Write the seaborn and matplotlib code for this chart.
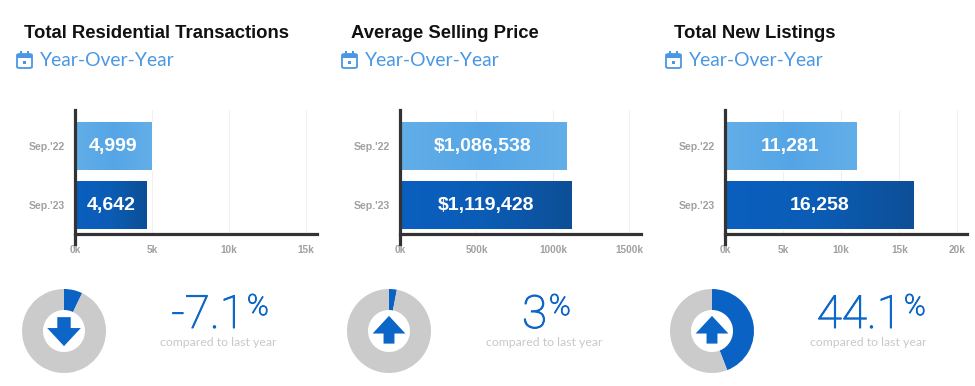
import numpy as np
import pandas as pd
import matplotlib
matplotlib.use("Agg")
import matplotlib.pyplot as plt
import matplotlib.patheffects as pe
import seaborn as sns
from matplotlib.colors import LinearSegmentedColormap
from matplotlib.patches import Polygon, FancyBboxPatch, Rectangle

W, H = 975, 386

periods = ["Sep.'22", "Sep.'23"]
titles = ["Total Residential Transactions", "Average Selling Price", "Total New Listings"]
subtitle = "Year-Over-Year"
transactions = [4999, 4642]
prices = [1086538, 1119428]
listings = [11281, 16258]
value_labels = [["4,999", "4,642"], ["$1,086,538", "$1,119,428"], ["11,281", "16,258"]]
tick_values = [[0, 5000, 10000, 15000], [0, 500000, 1000000, 1500000], [0, 5000, 10000, 15000, 20000]]
tick_labels = [["0k", "5k", "10k", "15k"], ["0k", "500k", "1000k", "1500k"], ["0k", "5k", "10k", "15k", "20k"]]
changes = [7.1, 3, 44.1]
change_labels = ["-7.1", "3", "44.1"]
directions = ["down", "up", "up"]

series = [transactions, prices, listings]
axis_left = [75, 400, 725]
axis_right = [317, 641, 967]
px_per_unit = [77.0 / 5000, 153.0 / 1000000, 11.62 / 1000]
title_x = [24, 351, 674]
sub_x = [40, 365, 689]
icon_x = [17, 342, 666]
donut_x = [64, 389, 712]
number_right = [245, 547, 902]
caption_x = [218, 544, 868]

BLUE = "#0b66c8"
NAVY_TEXT = "#4a97e4"

sns.set_theme(style="white")
plt.rcParams["font.family"] = ["Liberation Sans", "DejaVu Sans"]

fig = plt.figure(figsize=(W / 100, H / 100), dpi=100, facecolor="white")


def box(x0, y0, x1, y1):
    return [x0 / W, 1 - y1 / H, (x1 - x0) / W, (y1 - y0) / H]


def ftext(x, y, s, **kw):
    return fig.text(x / W, 1 - y / H, s, **kw)


grad_light = LinearSegmentedColormap.from_list("l", ["#62aee8", "#55a5e6", "#62aee8"])
grad_dark = LinearSegmentedColormap.from_list("d", ["#0a5fbe", "#0b5cb5", "#0d4f96"])
thicker = [pe.withStroke(linewidth=0.7, foreground=BLUE)]

for i in range(3):
    ax = fig.add_axes(box(axis_left[i], 110, axis_right[i], 234))
    df = pd.DataFrame({"period": periods, "value": series[i]})
    sns.barplot(data=df, x="value", y="period", hue="period", palette=["#5aa9e6", "#0b5cb5"],
                orient="h", width=0.8, legend=False, ax=ax, saturation=1, zorder=3)
    ax.set_xlim(0, (axis_right[i] - axis_left[i]) / px_per_unit[i])
    ax.set_ylim(1.49, -0.61)
    xl, yl = ax.get_xlim(), ax.get_ylim()
    for b, cmap in zip(ax.patches, [grad_light, grad_dark]):
        im = ax.imshow(np.linspace(0, 1, 128).reshape(1, -1), cmap=cmap, aspect="auto", zorder=4,
                       extent=[b.get_x(), b.get_x() + b.get_width(), b.get_y() + b.get_height(), b.get_y()])
        im.set_clip_path(b)
    ax.set_xlim(xl)
    ax.set_ylim(yl)
    for j, lab in enumerate(value_labels[i]):
        ax.text(series[i][j] / 2, j, lab, color="white", fontweight="bold", fontsize=14,
                ha="center", va="center", zorder=6)
    ax.set_xlabel("")
    ax.set_ylabel("")
    ax.set_xticks(tick_values[i])
    ax.set_xticklabels(tick_labels[i], fontsize=7.2, fontweight="bold", color="#a0a0a0")
    ax.tick_params(axis="x", length=0, pad=8)
    ax.tick_params(axis="y", length=0, pad=7)
    for t in ax.get_yticklabels():
        t.set_fontsize(7.6)
        t.set_fontweight("bold")
        t.set_color("#a0a0a0")
    ax.grid(axis="x", color="#f0f0f0", lw=0.8, zorder=0)
    ax.set_axisbelow(True)
    for s in ["top", "right"]:
        ax.spines[s].set_visible(False)
    for s in ["left", "bottom"]:
        ax.spines[s].set_color("#333333")
        ax.spines[s].set_linewidth(2.3)
        ax.spines[s].set_zorder(7)
    ax.spines["left"].set_bounds(ax.get_ylim()[0] + 0.17, ax.get_ylim()[1])
    ax.spines["left"].set_clip_on(False)

    # headings
    ftext(title_x[i], 33, titles[i], fontsize=13.3, fontweight="bold", color="#111111", va="center", ha="left")
    ftext(sub_x[i], 60, subtitle, fontsize=13.9, color=NAVY_TEXT, va="center", ha="left",
          family=["Lato", "DejaVu Sans"])

    # calendar icon
    ix, iy = icon_x[i], 52
    fig.add_artist(FancyBboxPatch((ix / W, 1 - (iy + 16) / H), 15 / W, 14 / H, boxstyle="round,pad=0,rounding_size=0.003",
                                  transform=fig.transFigure, fc="white", ec=NAVY_TEXT, lw=1.3))
    fig.add_artist(Rectangle((ix / W, 1 - (iy + 6) / H), 15 / W, 4 / H, transform=fig.transFigure, fc=NAVY_TEXT, ec="none"))
    for dx in (4, 11):
        fig.add_artist(Rectangle(((ix + dx - 0.7) / W, 1 - (iy + 3) / H), 1.6 / W, 3.5 / H,
                                 transform=fig.transFigure, fc=NAVY_TEXT, ec="none"))
    fig.add_artist(Rectangle(((ix + 6) / W, 1 - (iy + 12) / H), 3 / W, 3 / H, transform=fig.transFigure, fc=NAVY_TEXT, ec="none"))

    # donut
    dax = fig.add_axes(box(donut_x[i] - 42, 289, donut_x[i] + 42, 373))
    dax.pie([changes[i], 100 - changes[i]], colors=["#0a62c4", "#cbcbcb"], startangle=90, counterclock=False,
            radius=1, wedgeprops={"width": 0.5, "linewidth": 0})
    dax.set_xlim(-1, 1)
    dax.set_ylim(-1, 1)
    dax.set_aspect("equal")
    dax.axis("off")
    if directions[i] == "down":
        pts = [(-0.16, 0.33), (0.16, 0.33), (0.16, 0.07), (0.40, 0.07), (0, -0.36), (-0.40, 0.07), (-0.16, 0.07)]
    else:
        pts = [(-0.13, -0.30), (0.13, -0.30), (0.13, -0.06), (0.39, -0.06), (0, 0.36), (-0.39, -0.06), (-0.13, -0.06)]
    dax.add_patch(Polygon(pts, closed=True, fc=BLUE, ec="none", zorder=5))

    # change readout
    num = ftext(number_right[i], 328, change_labels[i], fontsize=33, color=BLUE, ha="right", va="baseline",
                family=["Roboto", "DejaVu Sans"], fontweight="light")
    num.set_path_effects(thicker)
    pct = ftext(number_right[i] + 2, 315, "%", fontsize=21, color=BLUE, ha="left", va="baseline",
                family=["Roboto", "DejaVu Sans"], fontweight="light")
    pct.set_path_effects(thicker)
    ftext(caption_x[i], 342, "compared to last year", fontsize=8.8, color="#c8c8c8", ha="center", va="center",
          family=["Lato", "DejaVu Sans"])

fig.savefig("out.png", dpi=100, facecolor="white")
